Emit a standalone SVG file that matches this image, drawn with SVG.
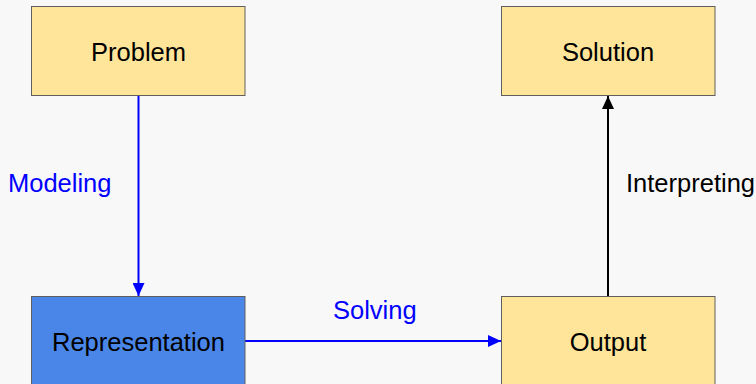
<svg xmlns="http://www.w3.org/2000/svg" width="756" height="384" viewBox="0 0 756 384">
  <style>
    .box { stroke: #5f5f5f; stroke-width: 1; }
    .yellow { fill: #ffe599; }
    .blue { fill: #4a86e8; }
    .label { font-family: "Liberation Sans", Arial, sans-serif; font-size: 25.5px; fill: #000000; text-anchor: middle; }
    .edge-label { font-family: "Liberation Sans", Arial, sans-serif; font-size: 25.5px; }
    .link { fill: none; stroke-width: 2; }
  </style>
  <defs>
    <marker id="head-blue" viewBox="0 0 13 12" refX="13" refY="6" markerWidth="13" markerHeight="12" markerUnits="userSpaceOnUse" orient="auto">
      <path d="M0,0 L13,6 L0,12 Z" fill="#0000ff"/>
    </marker>
    <marker id="head-black" viewBox="0 0 13 12" refX="13" refY="6" markerWidth="13" markerHeight="12" markerUnits="userSpaceOnUse" orient="auto">
      <path d="M0,0 L13,6 L0,12 Z" fill="#000000"/>
    </marker>
  </defs>

  <rect x="0" y="0" width="756" height="384" fill="#f8f8f8"/>

  <g id="connectors">
    <line class="link" x1="138.5" y1="96" x2="138.5" y2="296" stroke="#0000ff" marker-end="url(#head-blue)"/>
    <line class="link" x1="245" y1="341" x2="501" y2="341" stroke="#0000ff" marker-end="url(#head-blue)"/>
    <line class="link" x1="608" y1="296" x2="608" y2="96" stroke="#000000" marker-end="url(#head-black)"/>
    <text class="edge-label" x="8" y="192" fill="#0000ff">Modeling</text>
    <text class="edge-label" x="333" y="319" fill="#0000ff">Solving</text>
    <text class="edge-label" x="626" y="192" fill="#000000">Interpreting</text>
  </g>

  <g id="problem">
    <rect class="box yellow" x="31.5" y="6.5" width="213.5" height="89"/>
    <text class="label" x="138.5" y="61">Problem</text>
  </g>

  <g id="solution">
    <rect class="box yellow" x="501.5" y="6.5" width="213.5" height="89"/>
    <text class="label" x="608" y="61">Solution</text>
  </g>

  <g id="representation">
    <rect class="box blue" x="31.5" y="296.5" width="213.5" height="89"/>
    <text class="label" x="138.5" y="351">Representation</text>
  </g>

  <g id="output">
    <rect class="box yellow" x="501.5" y="296.5" width="213.5" height="89"/>
    <text class="label" x="608" y="351">Output</text>
  </g>
</svg>
